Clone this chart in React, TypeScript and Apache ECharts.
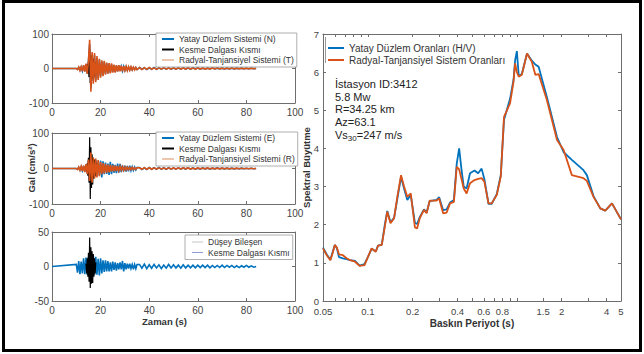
import React, { useEffect, useRef } from 'react';
import * as echarts from 'echarts';

const FONT = '"Liberation Sans", Arial, Helvetica, sans-serif';
const BLUE = '#0072BD';
const ORANGE = '#D95319';
const BLACK = '#000000';
const AXIS_C = '#6e6e6e';
const LABEL_C = '#444444';

// ---------- Seismogram data (cm/s^2) ----------
const activeStart = 10; // s
const activeStep = 0.5; // s
const tailStart = 36; // s
const tailStep = 1; // s
const shearStart = 14; // s
const shearStep = 0.25; // s

// Panel 1: N / T
const nActive = [0, -2, 3, -5, 4, -7, 9, -8, 12, -14, 20, 70, -58, 40, -36, 38, -34, 30, -28, 25, -22, 20, -19, 19, -16, 15, -14, 14, -12, 12, -10, 9, -10, 8, -8, 9, -7, 6, -7, 6, -5, 5, -5, 4, -4, 4, -4, 3, -3, 3, -3];
const nTail = [3, -2, 2, -3, 2, -2, 3, -2, 2, -2, 2, -2, 2, -1.5, 1.5, -2, 1.5, -1.5, 2, -1.5, 1.5, -1.5, 1.5, -1, 1.5, -1.5, 1, -1.5, 1, -1, 1.5, -1, 1, -1, 1, -1, 1, -1, 1, -1, 1, -0.5, 1, -0.5, 0.5, -0.5, 0.5, -0.5, 0];
const tActive = [0, -3, 4, -6, 5, -8, 10, -9, 14, -16, 22, 83, -67, 48, -44, 45, -40, 36, -33, 28, -27, 24, -22, 22, -18, 17, -15, 16, -14, 15, -12, 11, -12, 10, -9, 10, -8, 8, -8, 7, -6, 6, -6, 5, -5, 5, -4, 4, -4, 3, -3];
const tTail = [2.5, -3, 2, -2.5, 3, -2, 2, -2.5, 2, -2, 2.5, -2, 1.5, -2, 2, -1.5, 2, -2, 1.5, -1.5, 2, -1.5, 1.5, -2, 1.5, -1.5, 1.5, -1.5, 1, -1.5, 1.5, -1, 1.5, -1, 1, -1.5, 1, -1, 1.5, -1, 1, -1, 1, -1, 1, -1, 1, -0.5, 0];
const shear1 = [5, -8, 12, -15, 20, -25, 55, -42, 38, -48, 33, -30, 28, -25, 22, -20, 18, -15, 12];

// Panel 2: E / R
const eActive = [0, -2, 3, -4, 5, -6, 7, -9, 11, -14, 22, -30, 38, -35, 28, -25, 24, -22, 20, -19, 22, -25, 20, -16, 17, -15, 14, -18, 19, -16, 13, -12, 10, -13, 14, -12, 13, -10, 9, -8, 8, -9, 7, -8, 8, -6, 5, -5, 4, -4, 3];
const eTail = [3, -3, 2, -3, 3, -2, 2, -2, 3, -2, 2, -2, 2, -2, 1.5, -2, 2, -1.5, 1.5, -1.5, 2, -1.5, 1.5, -1.5, 1, -1.5, 1.5, -1, 1, -1.5, 1, -1, 1.5, -1, 1, -1, 1, -1, 1, -1, 0.5, -1, 1, -0.5, 0.5, -0.5, 0.5, -0.5, 0];
const rActive = [0, -3, 4, -5, 6, -7, 8, -10, 12, -15, 25, -35, 45, -40, 31, -28, 28, -25, 24, -22, 18, -16, 15, -14, 13, -12, 11, -11, 10, -9, 9, -8, 8, -7, 7, -6, 6, -5, 5, -5, 4, -4, 4, -3, 3, -3, 3, -3, 2, -2, 2];
const rTail = [2, -2, 2.5, -2, 2, -2, 2, -1.5, 2, -2, 1.5, -2, 2, -1.5, 1.5, -1.5, 2, -1.5, 1.5, -1, 1.5, -1.5, 1, -1.5, 1.5, -1, 1, -1, 1.5, -1, 1, -1, 1, -1, 1, -1, 1, -1, 0.5, -1, 1, -0.5, 0.5, -0.5, 0.5, -0.5, 0.5, -0.5, 0];
const shear2 = [6, -10, 15, -20, 30, -40, 88, -86, 60, -55, 40, -45, 30, -28, 25, -22, 20, -18, 15];

// Panel 3: Z
const zActive = [3, -9, 8, -11, 7, -10, 12, -11, 13, -12, 14, -17, 16, -14, 15, -12, 14, -12, 11, -13, 12, -10, 9, -8, 9, -7, 8, -7, 6, -7, 7, -5, 6, -6, 5, -4, 6, -4, 8, -7, 5, -4, 4, -3, 4, -3, 3, -4, 3, -3, 3];
const zTail = [3, -2.5, 3.5, -3, 2.5, -2.5, 3, -2, 2.5, -3, 2, -2.5, 3, -2, 2.5, -2, 2, -2.5, 2.5, -2, 2, -2, 2, -2, 2, -1.5, 2, -1.5, 2, -2, 1.5, -1.5, 1.5, -1.5, 2, -1.5, 1.5, -1, 1.5, -1.5, 1, -1.5, 1, -1, 1.5, -1, 1, -1, 0];
const shear3 = [4, -10, 12, -15, 20, -22, 42, -31, 28, -25, 22, -24, 18, -15, 12, -10, 6];

// ---------- Spectral ratio data ----------
const periods = [0.05, 0.053, 0.056, 0.058, 0.06, 0.062, 0.064, 0.068, 0.072, 0.076,
  0.082, 0.088, 0.095, 0.1, 0.106, 0.113, 0.117, 0.124, 0.13, 0.135,
  0.142, 0.15, 0.158, 0.167, 0.175, 0.184, 0.194, 0.207, 0.214, 0.223,
  0.238, 0.248, 0.26, 0.289, 0.301, 0.32, 0.338, 0.356, 0.378, 0.395,
  0.41, 0.425, 0.44, 0.46, 0.485, 0.52, 0.55, 0.58, 0.605, 0.645,
  0.678, 0.733, 0.78, 0.82, 0.9, 0.95, 0.973, 1.0, 1.03, 1.08,
  1.17, 1.26, 1.33, 1.4, 1.59, 1.86, 2.06, 2.34, 2.8, 2.95,
  3.27, 3.63, 3.92, 4.35, 5.0];
const hvRatio = [1.40, 1.22, 1.08, 1.28, 1.47, 1.38, 1.15, 1.12, 1.10, 1.07,
  1.05, 0.93, 0.97, 1.15, 1.37, 1.30, 1.45, 1.47, 2.00, 2.36,
  2.06, 2.18, 2.70, 3.25, 2.95, 2.65, 2.78, 2.05, 2.02, 2.20,
  2.40, 2.32, 2.62, 2.65, 2.72, 2.38, 2.40, 2.58, 2.65, 3.60,
  4.00, 3.45, 3.00, 2.95, 3.35, 3.42, 3.35, 3.47, 3.20, 2.55,
  2.55, 2.80, 3.30, 4.75, 5.30, 5.80, 6.30, 6.55, 5.90, 5.95,
  6.49, 6.30, 6.20, 6.14, 5.35, 4.30, 3.90, 3.70, 3.43, 3.30,
  2.75, 2.43, 2.37, 2.56, 2.14];
const rtRatio = [1.38, 1.20, 1.07, 1.25, 1.47, 1.40, 1.22, 1.20, 1.12, 1.07,
  1.03, 0.92, 0.94, 1.15, 1.38, 1.29, 1.45, 1.47, 1.95, 2.34,
  2.04, 2.17, 2.75, 3.30, 3.00, 2.73, 2.82, 1.93, 1.90, 2.17,
  2.39, 2.30, 2.63, 2.63, 2.69, 2.30, 2.32, 2.56, 2.60, 3.52,
  3.45, 3.20, 2.95, 2.82, 3.09, 3.17, 3.20, 3.22, 3.13, 2.56,
  2.56, 2.78, 3.26, 4.83, 5.18, 5.75, 6.23, 6.00, 5.88, 5.93,
  6.49, 6.27, 5.93, 5.95, 5.27, 4.22, 3.96, 3.30, 3.22, 3.15,
  2.73, 2.43, 2.37, 2.56, 2.14];

const periodLabels = [0.05, 0.1, 0.2, 0.4, 0.6, 0.8, 1.5, 2, 4, 5];
const periodTicks = [0.05, 0.06, 0.07, 0.08, 0.09, 0.1, 0.2, 0.3, 0.4, 0.5, 0.6, 0.7, 0.8, 0.9, 1, 1.5, 2, 3, 4, 5];

const annotations = ['İstasyon ID:3412', '5.8 Mw', 'R=34.25 km', 'Az=63.1'];

// ---------- helpers ----------
function samples(start: number, step: number, values: number[]) {
  return values.map((v, i) => [start + i * step, v]);
}
function trace(active: number[], tail: number[]) {
  return [[0, 0], ...samples(activeStart, activeStep, active), ...samples(tailStart, tailStep, tail)];
}

const tickStyle = { show: true, inside: true, length: 3, lineStyle: { color: AXIS_C, width: 1 } };
const lineAxis = { show: true, onZero: false, lineStyle: { color: AXIS_C, width: 1 } };

function timeAxis(gridIndex: number, position: string, showLabel: boolean, extra: any = {}) {
  return {
    type: 'value', gridIndex, position, min: 0, max: 100, interval: 20,
    axisLine: lineAxis, axisTick: tickStyle,
    axisLabel: { show: showLabel, color: LABEL_C, fontSize: 10, fontFamily: FONT, margin: 4 },
    splitLine: { show: false },
    ...extra,
  };
}
function accAxis(gridIndex: number, position: string, lim: number, showLabel: boolean) {
  return {
    type: 'value', gridIndex, position, min: -lim, max: lim, interval: lim,
    axisLine: lineAxis, axisTick: tickStyle,
    axisLabel: { show: showLabel, color: LABEL_C, fontSize: 10, fontFamily: FONT, margin: 3 },
    splitLine: { show: false },
  };
}
function periodLabelAxis(position: string, showLabel: boolean, extra: any = {}) {
  return {
    type: 'value', gridIndex: 3, position,
    min: Math.log10(0.05), max: Math.log10(5),
    axisLine: lineAxis,
    axisTick: { ...tickStyle, customValues: periodTicks.map((p) => Math.log10(p)) },
    axisLabel: {
      show: showLabel, color: LABEL_C, fontSize: 9.5, lineHeight: 10, fontFamily: FONT, margin: 5,
      customValues: periodLabels.map((p) => Math.log10(p)),
      formatter: (v: number) => String(parseFloat(Math.pow(10, v).toPrecision(2))),
    },
    splitLine: { show: false },
    ...extra,
  };
}
function ratioAxis(position: string, showLabel: boolean, extra: any = {}) {
  return {
    type: 'value', gridIndex: 3, position, min: 0, max: 7, interval: 1,
    axisLine: lineAxis, axisTick: tickStyle,
    axisLabel: { show: showLabel, color: LABEL_C, fontSize: 9.5, lineHeight: 10, fontFamily: FONT, margin: 4 },
    splitLine: { show: false },
    ...extra,
  };
}
function seisSeries(name: string, data: number[][], axis: number, color: string, width = 1.6) {
  return {
    type: 'line', name, data, xAxisIndex: axis, yAxisIndex: axis, symbol: 'none', silent: true,
    lineStyle: { color, width, join: 'miter' }, itemStyle: { color },
  };
}
const smallLegendBase = {
  orient: 'vertical', selectedMode: false, itemGap: 0.5, itemWidth: 12, itemHeight: 2, icon: 'rect',
  backgroundColor: '#ffffff', borderColor: '#9a9a9a', borderWidth: 0.8, borderRadius: 0,
  textStyle: { fontSize: 8.5, fontFamily: FONT, color: '#333', lineHeight: 10 },
};
function legendItem(name: string, color: string) {
  return { name, icon: 'rect', itemStyle: { color, borderWidth: 0 } };
}

export default function App() {
  const ref = useRef<HTMLDivElement>(null);
  useEffect(() => {
    if (!ref.current) return;
    const chart = echarts.init(ref.current, null, { renderer: 'svg' });
    const titleStyle = { fontFamily: FONT, fontWeight: 'bold', color: '#333' };
    const option: any = {
      animation: false,
      backgroundColor: '#ffffff',
      textStyle: { fontFamily: FONT },
      grid: [
        { left: 52, top: 34, width: 243, height: 69 },
        { left: 52, top: 133, width: 243, height: 71 },
        { left: 52, top: 232, width: 243, height: 69 },
        { left: 323, top: 34, width: 298, height: 267 },
      ],
      xAxis: [
        timeAxis(0, 'bottom', true),
        timeAxis(0, 'top', false),
        timeAxis(1, 'bottom', true),
        timeAxis(1, 'top', false),
        timeAxis(2, 'bottom', true, {
          name: 'Zaman (s)', nameLocation: 'middle', nameGap: 15, nameMoveOverlap: false,
          nameTextStyle: { ...titleStyle, fontSize: 9.5, padding: [0, 18, 0, 0] },
        }),
        timeAxis(2, 'top', false),
        { type: 'log', logBase: 10, gridIndex: 3, min: 0.05, max: 5, show: false },
        periodLabelAxis('bottom', true, {
          name: 'Baskın Periyot (s)', nameLocation: 'middle', nameGap: 16.5, nameMoveOverlap: false,
          nameTextStyle: { ...titleStyle, fontSize: 10, lineHeight: 11 },
        }),
        periodLabelAxis('top', false),
      ],
      yAxis: [
        accAxis(0, 'left', 100, true),
        accAxis(0, 'right', 100, false),
        accAxis(1, 'left', 100, true),
        accAxis(1, 'right', 100, false),
        accAxis(2, 'left', 50, true),
        accAxis(2, 'right', 50, false),
        ratioAxis('left', true, {
          name: 'Spektral Büyütme', nameLocation: 'middle', nameGap: 12, nameMoveOverlap: false,
          nameTextStyle: { ...titleStyle, fontSize: 9.5 },
        }),
        ratioAxis('right', false),
      ],
      legend: [
        {
          ...smallLegendBase, left: 156, top: 33, padding: [1, 3, 2, 6],
          data: [
            legendItem('Yatay Düzlem Sistemi (N)', BLUE),
            legendItem('Kesme Dalgası Kısmı', BLACK),
            legendItem('Radyal-Tanjansiyel Sistemi (T)', '#ecc6ad'),
          ],
        },
        {
          ...smallLegendBase, left: 156, top: 132, padding: [1, 3, 2, 6],
          data: [
            legendItem('Yatay Düzlem Sistemi (E)', BLUE),
            legendItem('Kesme Dalgası Kısmı', BLACK),
            legendItem('Radyal-Tanjansiyel Sistemi (R)', '#ecc6ad'),
          ],
        },
        {
          ...smallLegendBase, left: 185, top: 235, padding: [2, 3, 2, 7], itemWidth: 11, itemHeight: 1,
          data: [
            legendItem('Düşey Bileşen', '#c4c4c4'),
            legendItem('Kesme Dalgası Kısmı', '#8f9bd6'),
          ],
        },
        {
          orient: 'vertical', selectedMode: false, left: 325, top: 38, padding: [4, 4, 3, 3],
          itemGap: 0, itemWidth: 16, itemHeight: 2, icon: 'rect', borderWidth: 0,
          textStyle: { fontSize: 10, fontFamily: FONT, color: '#333', lineHeight: 12 },
          data: [
            legendItem('Yatay Düzlem Oranları (H/V)', BLUE),
            legendItem('Radyal-Tanjansiyel Sistem Oranları', ORANGE),
          ],
        },
      ],
      series: [
        seisSeries('Yatay Düzlem Sistemi (N)', trace(nActive, nTail), 0, BLUE),
        seisSeries('Kesme Dalgası Kısmı', samples(shearStart, shearStep, shear1), 0, BLACK, 1),
        seisSeries('Radyal-Tanjansiyel Sistemi (T)', trace(tActive, tTail), 0, ORANGE),
        seisSeries('Yatay Düzlem Sistemi (E)', trace(eActive, eTail), 2, BLUE),
        seisSeries('Kesme Dalgası Kısmı', samples(shearStart, shearStep, shear2), 2, BLACK, 1.2),
        seisSeries('Radyal-Tanjansiyel Sistemi (R)', trace(rActive, rTail), 2, ORANGE),
        seisSeries('Düşey Bileşen', trace(zActive, zTail), 4, BLUE),
        seisSeries('Kesme Dalgası Kısmı', samples(shearStart, shearStep, shear3), 4, BLACK, 1.2),
        {
          type: 'line', name: 'Yatay Düzlem Oranları (H/V)', xAxisIndex: 6, yAxisIndex: 6,
          data: periods.map((p, i) => [p, hvRatio[i]]), symbol: 'none', silent: true,
          lineStyle: { color: BLUE, width: 1.8 }, itemStyle: { color: BLUE },
        },
        {
          type: 'line', name: 'Radyal-Tanjansiyel Sistem Oranları', xAxisIndex: 6, yAxisIndex: 6,
          data: periods.map((p, i) => [p, rtRatio[i]]), symbol: 'none', silent: true,
          lineStyle: { color: ORANGE, width: 1.8 }, itemStyle: { color: ORANGE },
        },
      ],
      graphic: [
        {
          type: 'rect', silent: true, z: 100,
          shape: { x: 3.5, y: 1.5, width: 637, height: 349 },
          style: { fill: 'none', stroke: '#000', lineWidth: 3 },
        },
        {
          type: 'text', x: 31, y: 168, rotation: Math.PI / 2, silent: true,
          style: { text: 'Gal (cm/s²)', align: 'center', verticalAlign: 'middle', fill: '#333', font: `bold 9.5px ${FONT}` },
        },
        {
          type: 'line', silent: true, z: 10,
          shape: { x1: 325.5, y1: 37, x2: 325.5, y2: 63 },
          style: { stroke: '#9a9a9a', lineWidth: 1 },
        },
        ...annotations.map((t, i) => ({
          type: 'text', x: 335, y: 84 + i * 12.7, silent: true,
          style: { text: t, align: 'left', verticalAlign: 'middle', fill: '#222', font: `11px ${FONT}` },
        })),
        {
          type: 'text', x: 335, y: 135, silent: true,
          style: {
            text: '{a|Vs}{b|30}{a|=247 m/s}', align: 'left', verticalAlign: 'middle',
            rich: {
              a: { fontSize: 11, fontFamily: FONT, fill: '#222', lineHeight: 15 },
              b: { fontSize: 8, fontFamily: FONT, fill: '#222', verticalAlign: 'bottom' },
            },
          },
        },
      ],
    };
    chart.setOption(option);
    return () => chart.dispose();
  }, []);
  return (
    <div
      ref={ref}
      style={{ position: 'fixed', left: 0, top: 0, width: 644, height: 354, background: '#fff' }}
    />
  );
}
